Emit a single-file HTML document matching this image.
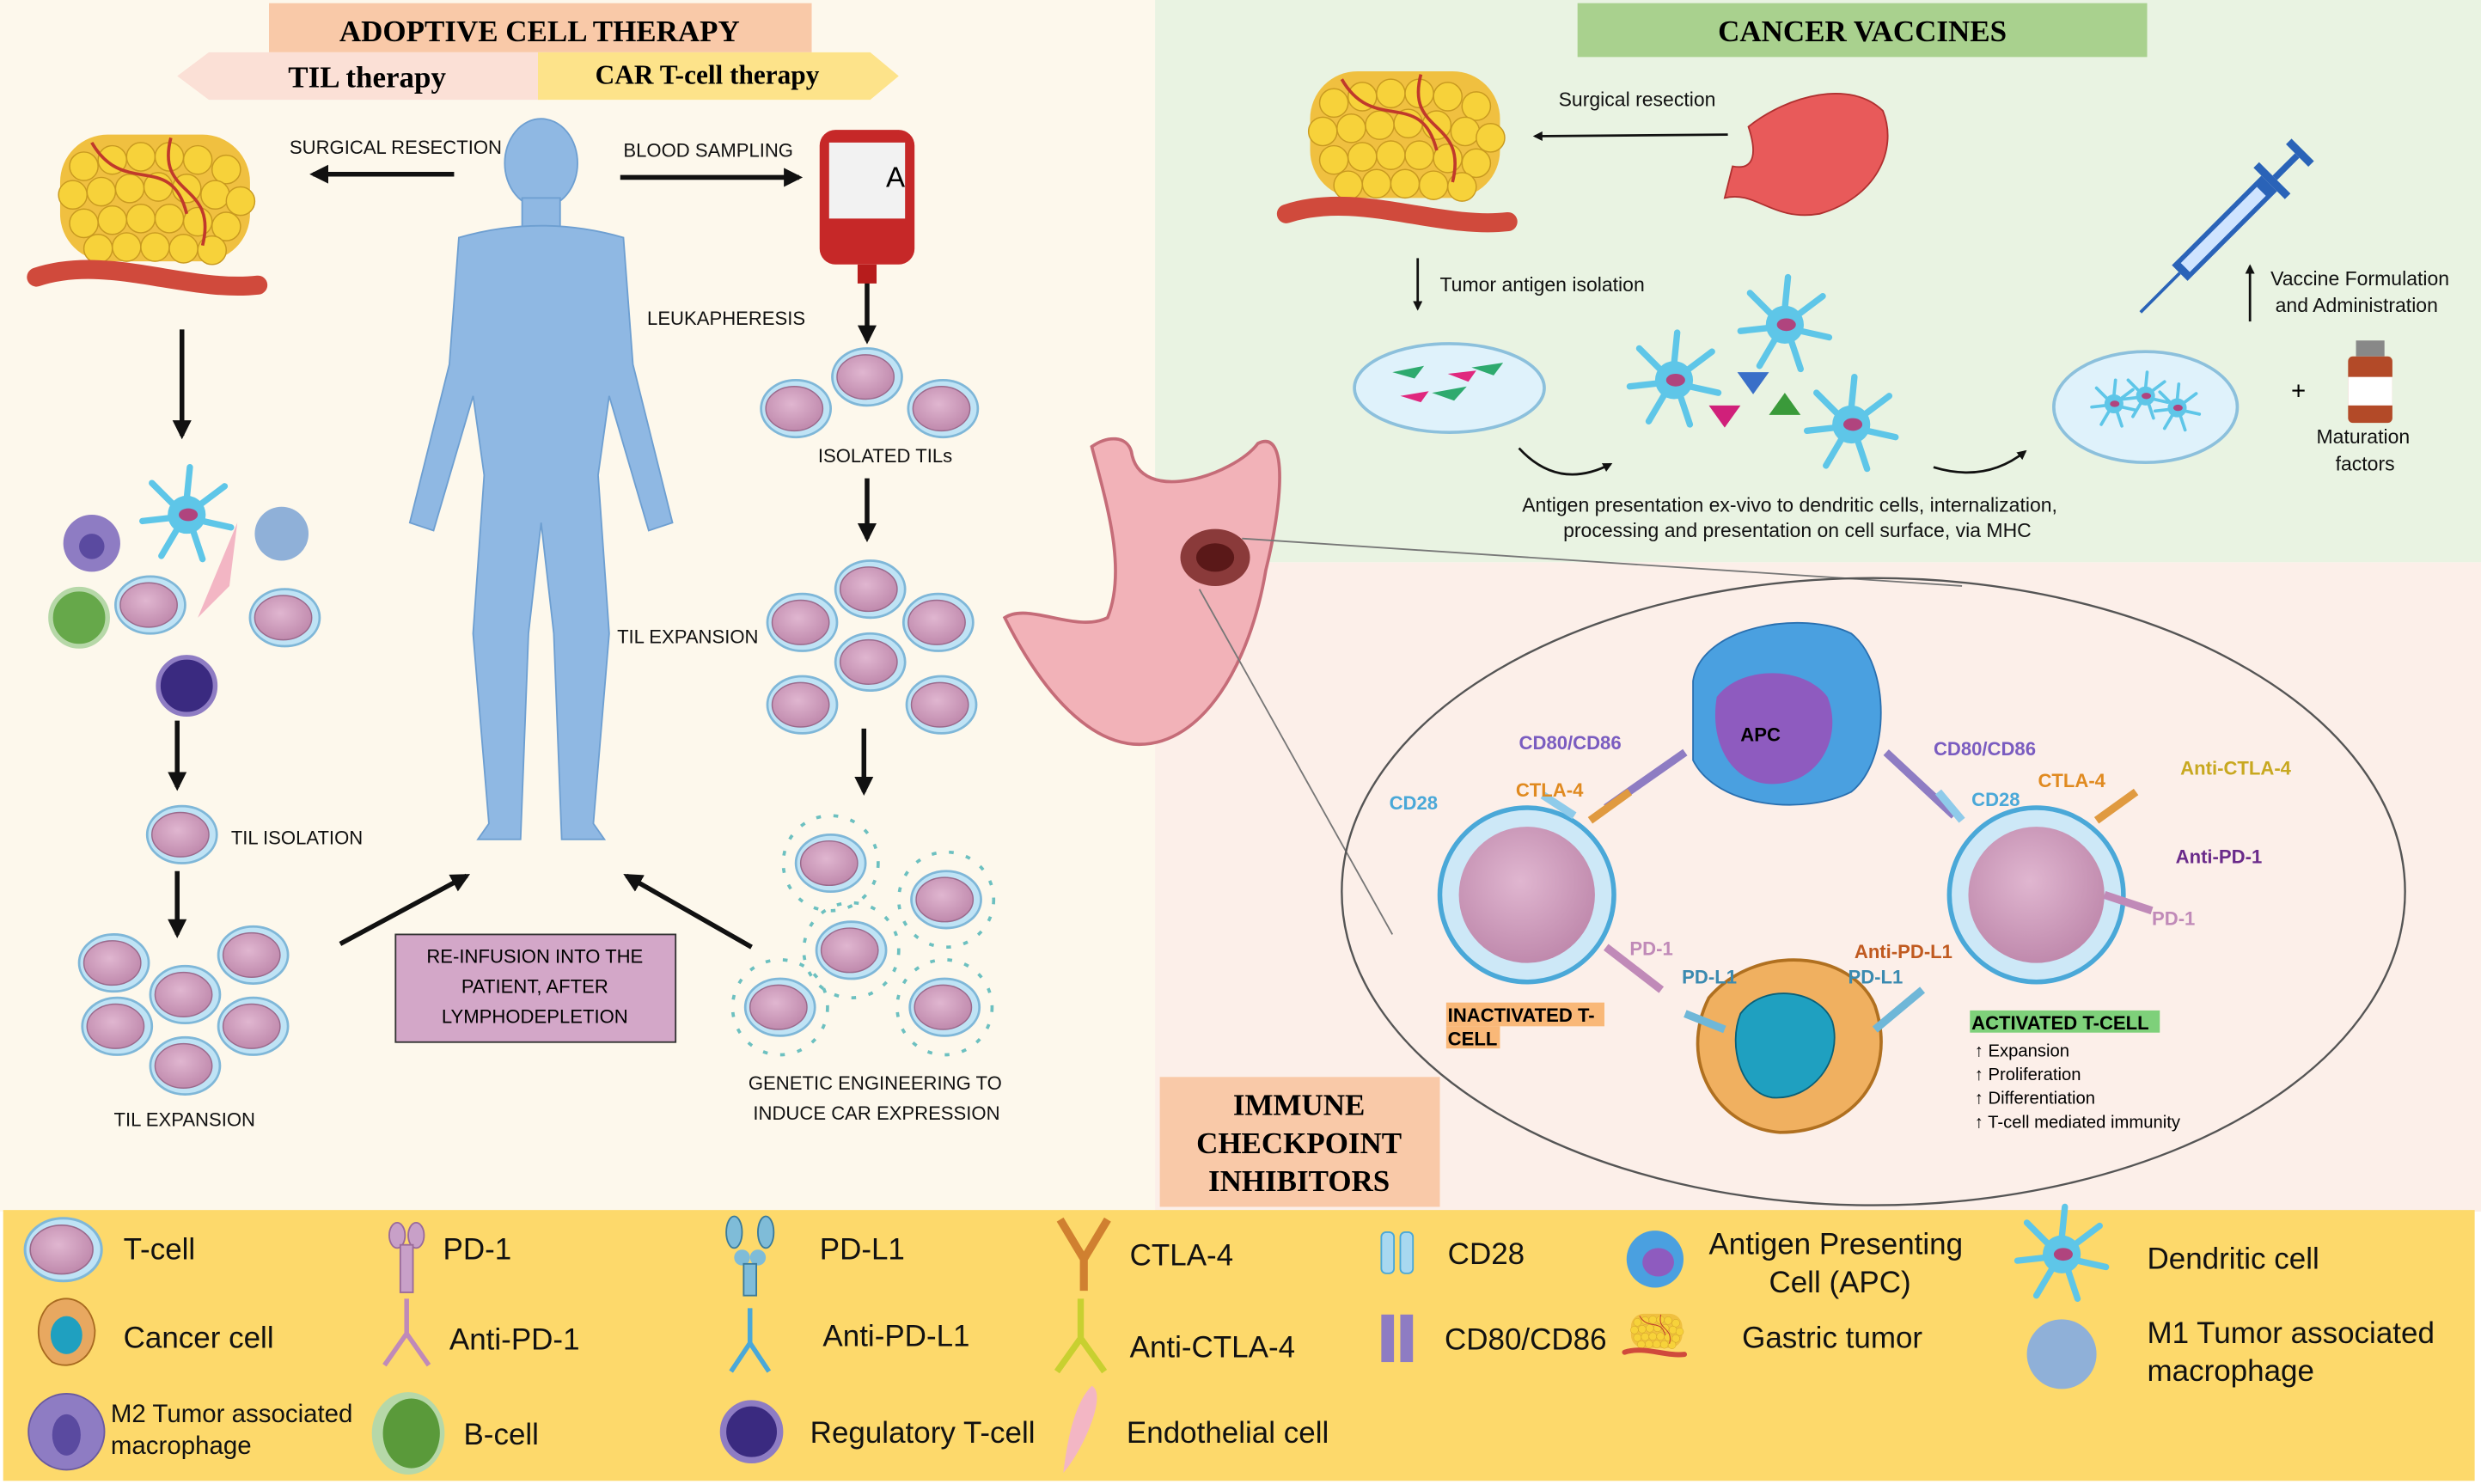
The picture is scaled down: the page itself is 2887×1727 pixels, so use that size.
<!DOCTYPE html>
<html><head><meta charset="utf-8"><style>
html,body{margin:0;padding:0;background:#fff}
svg{display:block}
text{font-family:"Liberation Sans",sans-serif}
text.sf,text.sf tspan{font-family:"Liberation Serif",serif}
</style></head><body>
<svg width="2887" height="1727" viewBox="0 0 1568 937" preserveAspectRatio="none" xmlns="http://www.w3.org/2000/svg">
<defs>
<radialGradient id="tc" cx="45%" cy="40%" r="60%"><stop offset="0" stop-color="#e0b6d0"/><stop offset="1" stop-color="#c08aad"/></radialGradient>
<g id="cell"><ellipse cx="0" cy="0" rx="22" ry="18" fill="#bfe3f5" stroke="#7fb7d8" stroke-width="1.5"/><ellipse cx="-1" cy="0" rx="18" ry="14" fill="url(#tc)" stroke="#9a6a8c" stroke-width="0.8"/></g>
<g id="dc"><circle r="12" fill="#5ec6e8"/><path d="M0,-10 L2,-30 M8,-6 L24,-18 M10,4 L28,8 M4,10 L10,28 M-6,9 L-16,26 M-10,2 L-28,4 M-8,-6 L-22,-20" stroke="#5ec6e8" stroke-width="4" stroke-linecap="round"/><ellipse cx="1" cy="0" rx="6" ry="4" fill="#b0447e"/></g>
<g id="tumor"><rect x="-60" y="-50" width="120" height="80" rx="30" fill="#f0c040"/>
<g fill="#f7d23a" stroke="#c99a20" stroke-width="0.8"><circle cx="-45" cy="-30" r="9"/><circle cx="-27" cy="-34" r="9"/><circle cx="-9" cy="-36" r="9"/><circle cx="9" cy="-36" r="9"/><circle cx="27" cy="-34" r="9"/><circle cx="45" cy="-28" r="9"/><circle cx="-52" cy="-12" r="9"/><circle cx="-34" cy="-14" r="9"/><circle cx="-16" cy="-16" r="9"/><circle cx="2" cy="-17" r="9"/><circle cx="20" cy="-16" r="9"/><circle cx="38" cy="-12" r="9"/><circle cx="54" cy="-8" r="9"/><circle cx="-45" cy="6" r="9"/><circle cx="-27" cy="4" r="9"/><circle cx="-9" cy="3" r="9"/><circle cx="9" cy="3" r="9"/><circle cx="27" cy="5" r="9"/><circle cx="45" cy="8" r="9"/><circle cx="-36" cy="22" r="9"/><circle cx="-18" cy="21" r="9"/><circle cx="0" cy="21" r="9"/><circle cx="18" cy="22" r="9"/><circle cx="36" cy="23" r="9"/></g>
<path d="M-40,-45 C-20,-10 10,-40 20,0 M10,-48 C0,-10 40,-20 30,20" stroke="#c0392b" stroke-width="2" fill="none"/>
<path d="M-75,40 C-30,25 20,50 65,45" stroke="#d04a3c" stroke-width="12" fill="none" stroke-linecap="round"/></g>
<marker id="ah" viewBox="0 0 10 10" refX="8" refY="5" markerWidth="4" markerHeight="4" orient="auto"><path d="M0,0 L10,5 L0,10z" fill="#111"/></marker>
</defs>
<rect x="0" y="0" width="1568" height="937" fill="#fff"/>
<rect x="0" y="0" width="730" height="765" fill="#fdf8ec"/>
<rect x="730" y="0" width="838" height="355" fill="#e9f3e2"/>
<rect x="730" y="355" width="838" height="410" fill="#fcefe9"/>
<rect x="2" y="764" width="1562" height="171" fill="#fdd96b"/>
<rect x="170" y="2" width="343" height="31" fill="#f9c9a8"/>
<text class="sf" x="341" y="26" font-size="19" font-weight="bold" text-anchor="middle">ADOPTIVE CELL THERAPY</text>
<path d="M112,48 L132,33 L345,33 L345,63 L132,63z" fill="#fbe0d6"/>
<path d="M340,33 L550,33 L568,48 L550,63 L340,63z" fill="#fde38a"/>
<text class="sf" x="232" y="55" font-size="19" font-weight="bold" text-anchor="middle">TIL therapy</text>
<text class="sf" x="447" y="53" font-size="17" font-weight="bold" text-anchor="middle">CAR T-cell therapy</text>
<rect x="997" y="2" width="360" height="34" fill="#a9d18e"/>
<text class="sf" x="1177" y="26" font-size="19" font-weight="bold" text-anchor="middle">CANCER VACCINES</text>
<rect x="733" y="680" width="177" height="82" fill="#f9c9a8"/>
<text class="sf" font-size="19" font-weight="bold" text-anchor="middle"><tspan x="821" y="704">IMMUNE</tspan><tspan x="821" y="728">CHECKPOINT</tspan><tspan x="821" y="752">INHIBITORS</tspan></text>
<use href="#tumor" transform="translate(98,135)"/>
<g stroke="#111" stroke-width="3" marker-end="url(#ah)" fill="none">
<line x1="287" y1="110" x2="198" y2="110"/>
<line x1="392" y1="112" x2="505" y2="112"/>
<line x1="115" y1="208" x2="115" y2="275"/>
<line x1="112" y1="455" x2="112" y2="497"/>
<line x1="112" y1="550" x2="112" y2="590"/>
<line x1="548" y1="178" x2="548" y2="215"/>
<line x1="548" y1="302" x2="548" y2="340"/>
<line x1="546" y1="460" x2="546" y2="500"/>
<line x1="215" y1="596" x2="295" y2="553"/>
<line x1="475" y1="598" x2="396" y2="553"/>
</g>
<g font-size="12" fill="#111">
<text x="183" y="97">SURGICAL RESECTION</text>
<text x="394" y="99">BLOOD SAMPLING</text>
<text x="409" y="205">LEUKAPHERESIS</text>
<text x="517" y="292">ISOLATED TILs</text>
<text x="390" y="406">TIL EXPANSION</text>
<text x="146" y="533">TIL ISOLATION</text>
<text x="72" y="711">TIL EXPANSION</text>
<text x="473" y="688">GENETIC ENGINEERING TO</text>
<text x="476" y="707">INDUCE CAR EXPRESSION</text>
</g>
<g fill="#8fb8e3" stroke="#6e9fd1" stroke-width="1">
<ellipse cx="342" cy="103" rx="23" ry="28"/>
<rect x="330" y="125" width="24" height="20"/>
<path d="M290,150 Q342,135 394,150 L400,230 L425,330 L410,335 L385,250 L378,300 L385,400 L375,520 L382,530 L355,530 L350,400 L342,330 L334,400 L329,530 L302,530 L309,520 L299,400 L306,300 L299,250 L274,335 L259,330 L284,230z"/>
</g>
<rect x="518" y="82" width="60" height="85" rx="10" fill="#c62828"/>
<rect x="524" y="90" width="48" height="48" fill="#f2f2f2"/>
<text x="560" y="118" font-size="18">A</text>
<rect x="542" y="167" width="12" height="12" fill="#b71c1c"/>
<use href="#cell" transform="translate(503,258)"/><use href="#cell" transform="translate(548,238)"/><use href="#cell" transform="translate(596,258)"/>
<use href="#cell" transform="translate(507,393)"/><use href="#cell" transform="translate(550,372)"/><use href="#cell" transform="translate(593,393)"/><use href="#cell" transform="translate(550,418)"/><use href="#cell" transform="translate(507,445)"/><use href="#cell" transform="translate(595,445)"/>
<g><use href="#cell" transform="translate(525,545)"/><use href="#cell" transform="translate(598,568)"/><use href="#cell" transform="translate(538,600)"/><use href="#cell" transform="translate(493,636)"/><use href="#cell" transform="translate(597,636)"/>
<g stroke="#6cc0c0" stroke-width="2" fill="none"><circle cx="525" cy="545" r="30" stroke-dasharray="3 8"/><circle cx="598" cy="568" r="30" stroke-dasharray="3 8"/><circle cx="538" cy="600" r="30" stroke-dasharray="3 8"/><circle cx="493" cy="636" r="30" stroke-dasharray="3 8"/><circle cx="597" cy="636" r="30" stroke-dasharray="3 8"/></g></g>
<use href="#cell" transform="translate(115,527)"/>
<use href="#cell" transform="translate(72,608)"/><use href="#cell" transform="translate(117,628)"/><use href="#cell" transform="translate(160,603)"/><use href="#cell" transform="translate(160,648)"/><use href="#cell" transform="translate(117,673)"/><use href="#cell" transform="translate(74,648)"/>
<circle cx="58" cy="343" r="18" fill="#8e7cc3"/><circle cx="58" cy="345" r="8" fill="#5a4aa0"/>
<use href="#dc" transform="translate(118,325)"/>
<circle cx="178" cy="337" r="17" fill="#8fb0d8"/>
<circle cx="50" cy="390" r="18" fill="#66a84a" stroke="#b6d8a8" stroke-width="3"/>
<use href="#cell" transform="translate(95,382)"/>
<path d="M125,390 L150,330 L145,370z" fill="#f3b6c4"/>
<use href="#cell" transform="translate(180,390)"/>
<circle cx="118" cy="433" r="18" fill="#3a2a80" stroke="#8e7cc3" stroke-width="3"/>
<rect x="250" y="590" width="177" height="68" fill="#d3a7c8" stroke="#333" stroke-width="1"/>
<text font-size="12" text-anchor="middle"><tspan x="338" y="608">RE-INFUSION INTO THE</tspan><tspan x="338" y="627">PATIENT, AFTER</tspan><tspan x="338" y="646">LYMPHODEPLETION</tspan></text>
<path d="M690,282 C700,275 712,275 715,285 C720,320 780,300 795,280 C815,270 810,320 800,360 C790,420 760,470 720,470 C690,470 660,440 635,390 C650,380 680,400 700,390 C712,360 700,320 690,282z" fill="#f2b2b8" stroke="#c56c78" stroke-width="2"/>
<ellipse cx="768" cy="352" rx="22" ry="18" fill="#8a3a3a"/><ellipse cx="768" cy="352" rx="12" ry="9" fill="#5a1818"/>
<line x1="785" y1="340" x2="1240" y2="370" stroke="#777" stroke-width="1"/>
<line x1="758" y1="372" x2="880" y2="590" stroke="#777" stroke-width="1"/>
<use href="#tumor" transform="translate(888,95)"/>
<path d="M1105,80 C1130,60 1170,50 1190,70 C1200,95 1185,125 1150,135 C1120,140 1110,120 1090,125 L1095,105 C1110,108 1110,95 1105,80z" fill="#e85a5a" stroke="#b03030"/>
<g stroke="#111" stroke-width="1.5" fill="none" marker-end="url(#ah)">
<line x1="1092" y1="85" x2="970" y2="86"/>
<line x1="896" y1="163" x2="896" y2="195"/>
<line x1="1422" y1="203" x2="1422" y2="168"/>
<path d="M960,283 Q985,310 1018,293"/>
<path d="M1222,295 Q1255,305 1280,285"/>
</g>
<g font-size="12.5" fill="#111">
<text x="985" y="67">Surgical resection</text>
<text x="910" y="184">Tumor antigen isolation</text>
<text x="1435" y="180">Vaccine Formulation</text>
<text x="1438" y="197">and Administration</text>
<text x="1464" y="280">Maturation</text>
<text x="1476" y="297">factors</text>
<text x="962" y="323">Antigen presentation ex-vivo to dendritic cells, internalization,</text>
<text x="988" y="339">processing and presentation on cell surface, via MHC</text>
</g>
<ellipse cx="916" cy="245" rx="60" ry="28" fill="#dff2fb" stroke="#8cc0dc" stroke-width="2"/>
<g fill="#2eaa6e"><path d="M880,235 l20,-4 l-6,8z M905,248 l22,-4 l-8,9z M930,232 l20,-3 l-6,8z"/></g>
<g fill="#e0287e"><path d="M885,250 l18,-3 l-5,7z M915,236 l18,-2 l-5,7z"/></g>
<path d="M1098,235 l20,0 l-10,14z" fill="#3a6fc8"/><path d="M1118,262 l20,0 l-10,-14z" fill="#3a9a3a"/><path d="M1080,256 l20,0 l-10,14z" fill="#d0207a"/>
<use href="#dc" transform="translate(1058,240)"/><use href="#dc" transform="translate(1128,205)"/><use href="#dc" transform="translate(1170,268)"/>
<ellipse cx="1356" cy="257" rx="58" ry="35" fill="#dff2fb" stroke="#8cc0dc" stroke-width="2"/>
<g transform="translate(1356,255) scale(0.5)"><use href="#dc" transform="translate(-40,0)"/><use href="#dc" transform="translate(0,-10)"/><use href="#dc" transform="translate(40,5)"/></g>
<text x="1448" y="252" font-size="16">+</text>
<rect x="1484" y="225" width="28" height="42" rx="3" fill="#b34a28"/><rect x="1484" y="238" width="28" height="18" fill="#fff"/><rect x="1489" y="215" width="18" height="10" fill="#888"/>
<g transform="translate(1420,130) rotate(-45)"><rect x="-60" y="-7" width="80" height="14" fill="#2a63b8"/><rect x="-55" y="-4" width="68" height="8" fill="#cfe4ff"/><line x1="-60" y1="0" x2="-95" y2="0" stroke="#2a63b8" stroke-width="2"/><rect x="20" y="-14" width="5" height="28" fill="#2a63b8"/><rect x="25" y="-2" width="20" height="4" fill="#2a63b8"/><rect x="45" y="-10" width="5" height="20" fill="#2a63b8"/></g>
<ellipse cx="1184" cy="563" rx="336" ry="198" fill="none" stroke="#555" stroke-width="1.3"/>
<path d="M1070,430 C1075,395 1140,385 1170,400 C1195,420 1195,480 1170,500 C1140,515 1085,510 1070,480z" fill="#4aa0e0" stroke="#2a70b0"/>
<path d="M1085,440 C1100,420 1140,420 1155,440 C1165,465 1150,495 1120,495 C1095,495 1080,470 1085,440z" fill="#8e5bbf"/>
<text x="1100" y="468" font-size="12" font-weight="bold">APC</text>
<circle cx="965" cy="565" r="55" fill="#cde8f7" stroke="#4aa8d8" stroke-width="3"/><circle cx="965" cy="565" r="43" fill="url(#tc)"/>
<circle cx="1287" cy="565" r="55" fill="#cde8f7" stroke="#4aa8d8" stroke-width="3"/><circle cx="1287" cy="565" r="43" fill="url(#tc)"/>
<path d="M1080,630 C1110,595 1170,600 1185,635 C1200,680 1170,715 1125,715 C1085,712 1060,670 1080,630z" fill="#f0b060" stroke="#b07020" stroke-width="2"/>
<path d="M1100,640 C1115,620 1150,625 1158,645 C1165,670 1145,695 1120,693 C1100,690 1092,660 1100,640z" fill="#1fa0c0" stroke="#0a6078"/>
<g stroke-width="5" fill="none">
<path d="M1015,510 L1065,475" stroke="#8e7cc3"/><path d="M1192,475 L1235,515" stroke="#8e7cc3"/>
<path d="M1005,518 L1030,500" stroke="#e09a40"/><path d="M1325,518 L1350,500" stroke="#e09a40"/>
<path d="M995,515 L975,502" stroke="#8fcbea"/><path d="M1240,518 L1225,500" stroke="#8fcbea"/>
<path d="M1015,598 L1050,625" stroke="#c08ab8"/><path d="M1330,565 L1360,575" stroke="#c08ab8"/>
<path d="M1065,640 L1090,650" stroke="#6fb7d8"/><path d="M1185,650 L1215,625" stroke="#6fb7d8"/>
</g>
<g font-size="12" font-weight="bold">
<text x="960" y="473" fill="#7a5cc0">CD80/CD86</text>
<text x="1222" y="477" fill="#7a5cc0">CD80/CD86</text>
<text x="878" y="511" fill="#4aa8d8">CD28</text>
<text x="1246" y="509" fill="#4aa8d8">CD28</text>
<text x="958" y="503" fill="#e08a20">CTLA-4</text>
<text x="1288" y="497" fill="#e08a20">CTLA-4</text>
<text x="1378" y="489" fill="#c8a820">Anti-CTLA-4</text>
<text x="1375" y="545" fill="#6a2a8a">Anti-PD-1</text>
<text x="1360" y="584" fill="#c08ab8">PD-1</text>
<text x="1030" y="603" fill="#c08ab8">PD-1</text>
<text x="1063" y="621" fill="#3a8ab0">PD-L1</text>
<text x="1168" y="621" fill="#3a8ab0">PD-L1</text>
<text x="1172" y="605" fill="#c05a20">Anti-PD-L1</text>
</g>
<rect x="914" y="633" width="100" height="15" fill="#f9b878"/><rect x="914" y="648" width="34" height="14" fill="#f9b878"/>
<text x="915" y="645" font-size="12" font-weight="bold">INACTIVATED T-</text><text x="915" y="660" font-size="12" font-weight="bold">CELL</text>
<rect x="1245" y="638" width="120" height="14" fill="#7ed07a"/>
<text x="1246" y="650" font-size="12" font-weight="bold">ACTIVATED T-CELL</text>
<g font-size="11"><text x="1248" y="667">↑ Expansion</text><text x="1248" y="682">↑ Proliferation</text><text x="1248" y="697">↑ Differentiation</text><text x="1248" y="712">↑ T-cell mediated immunity</text></g>
<use href="#cell" transform="translate(40,789) scale(1.1)"/>
<path d="M30,825 C40,815 58,820 60,840 C60,858 45,866 33,860 C22,850 22,835 30,825z" fill="#e8a860" stroke="#a86a20"/><ellipse cx="42" cy="843" rx="10" ry="12" fill="#1fa0c0"/>
<circle cx="42" cy="904" r="24" fill="#8e7cc3" stroke="#6a5aa0"/><ellipse cx="42" cy="906" rx="9" ry="13" fill="#5a4aa0"/>
<ellipse cx="258" cy="905" rx="23" ry="26" fill="#b6d8a8"/><ellipse cx="260" cy="905" rx="18" ry="22" fill="#5a9a3a"/>
<ellipse cx="251" cy="780" rx="5" ry="8" fill="#c8a0c8" stroke="#9a6a9a"/><ellipse cx="263" cy="780" rx="5" ry="8" fill="#c8a0c8" stroke="#9a6a9a"/><rect x="253" y="786" width="8" height="30" fill="#c8a0c8" stroke="#9a6a9a"/>
<path d="M257,820 L257,842 L243,862 M257,842 L271,862" stroke="#c08ab8" stroke-width="3" fill="none"/>
<ellipse cx="464" cy="778" rx="5" ry="10" fill="#7fbcd8" stroke="#3a7a9a"/><ellipse cx="484" cy="778" rx="5" ry="10" fill="#7fbcd8" stroke="#3a7a9a"/><circle cx="469" cy="794" r="5" fill="#7fbcd8"/><circle cx="479" cy="794" r="5" fill="#7fbcd8"/><rect x="470" y="798" width="8" height="20" fill="#7fbcd8" stroke="#3a7a9a"/>
<path d="M474,826 L474,848 L462,866 M474,848 L486,866" stroke="#4aa8d8" stroke-width="3" fill="none"/>
<path d="M670,770 L685,795 L700,770 M685,795 L685,815" stroke="#d08030" stroke-width="5" fill="none"/>
<path d="M683,820 L683,845 L668,866 M683,845 L698,866" stroke="#c8d030" stroke-width="4" fill="none"/>
<path d="M690,875 C700,880 685,915 672,930 C675,905 680,885 690,875z" fill="#f3b6c4"/>
<circle cx="475" cy="904" r="18" fill="#3a2a80" stroke="#8e7cc3" stroke-width="4"/>
<rect x="873" y="778" width="8" height="26" rx="3" fill="#a8d8f0" stroke="#4aa8d8"/><rect x="885" y="778" width="8" height="26" rx="3" fill="#a8d8f0" stroke="#4aa8d8"/>
<rect x="873" y="830" width="8" height="30" fill="#8e7cc3"/><rect x="885" y="830" width="8" height="30" fill="#8e7cc3"/>
<circle cx="1046" cy="795" r="18" fill="#4aa0e0"/><ellipse cx="1048" cy="797" rx="10" ry="9" fill="#8e5bbf"/>
<g transform="translate(1047,843) scale(0.27)"><use href="#tumor"/></g>
<use href="#dc" transform="translate(1303,792)"/>
<circle cx="1303" cy="855" r="22" fill="#8fb0d8"/>
<g font-size="19" fill="#111">
<text x="78" y="795">T-cell</text>
<text x="78" y="851">Cancer cell</text>
<text x="70" y="898" font-size="16">M2 Tumor associated</text><text x="70" y="918" font-size="16">macrophage</text>
<text x="280" y="795">PD-1</text>
<text x="284" y="852">Anti-PD-1</text>
<text x="293" y="912">B-cell</text>
<text x="518" y="795">PD-L1</text>
<text x="520" y="850">Anti-PD-L1</text>
<text x="512" y="911">Regulatory T-cell</text>
<text x="714" y="799">CTLA-4</text>
<text x="714" y="857">Anti-CTLA-4</text>
<text x="712" y="911">Endothelial cell</text>
<text x="915" y="798">CD28</text>
<text x="913" y="852">CD80/CD86</text>
<text x="1080" y="792">Antigen Presenting</text><text x="1118" y="816">Cell (APC)</text>
<text x="1101" y="851">Gastric tumor</text>
<text x="1357" y="801">Dendritic cell</text>
<text x="1357" y="848">M1 Tumor associated</text><text x="1357" y="872">macrophage</text>
</g>
</svg>
</body></html>
